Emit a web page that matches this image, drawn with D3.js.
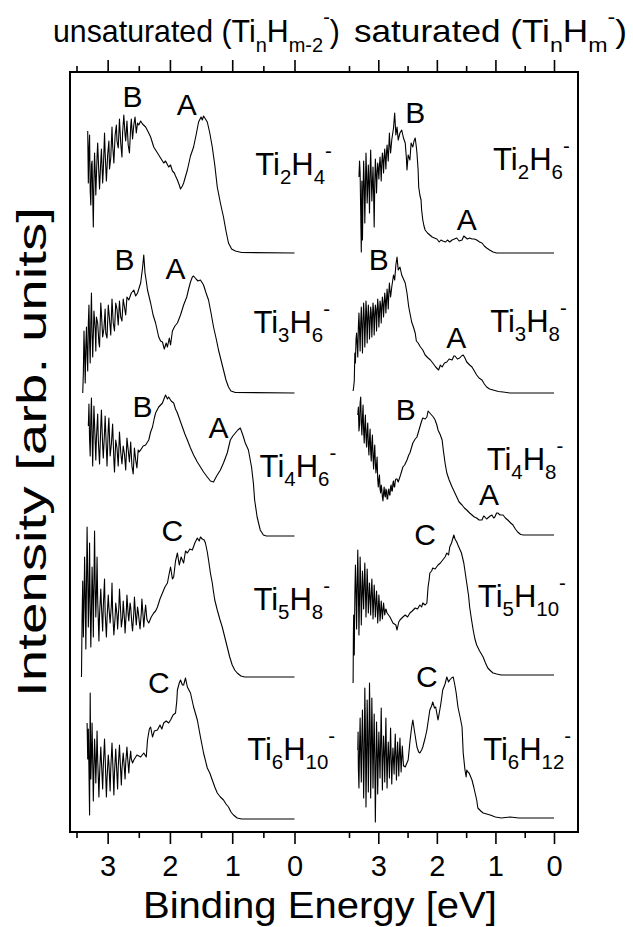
<!DOCTYPE html>
<html>
<head>
<meta charset="utf-8">
<script src="https://cdn.jsdelivr.net/npm/d3@7"></script>
<style>
body { margin: 0; background: #fff; }
svg { display: block; font-family: "Liberation Sans", Arial, Helvetica, sans-serif; }
.trace { fill: none; stroke: #000; stroke-width: 1.1; stroke-linejoin: round; }
.axis line { stroke: #000; stroke-width: 1.6; }
.axis path { display: none; }
.axis text { font-size: 29px; fill: #000; font-family: "Liberation Sans", Arial, sans-serif; }
</style>
</head>
<body>
<div id="chart"></div>
<script>
"use strict"

// binding energy ticks (eV), both panels use the same ones
const majorTicks = [3, 2, 1, 0];
const minorTicks = [3.5, 2.5, 1.5, 0.5];
const tickLabels = ["3", "2", "1", "0"];

const panelTitles = ["unsaturated (Ti_{n}H_{m-2}^{-})", "saturated (Ti_{n}H_{m}^{-})"];

// spectra as [binding energy (eV), intensity above own baseline (arb. units)]
const ti2h4 = [
    [3.32,122],[3.31,70],[3.30,104],[3.29,118],[3.28,62],[3.27,48],[3.26,88],[3.25,92],[3.23,26],[3.22,74],
    [3.21,100],[3.20,82],[3.19,58],[3.17,96],[3.16,110],[3.14,78],[3.13,64],[3.11,92],[3.10,104],[3.08,70],
    [3.07,82],[3.05,120],[3.04,100],[3.02,72],[3.00,98],[2.98,112],[2.97,84],[2.95,95],[2.93,126],[2.92,108],
    [2.90,90],[2.88,118],[2.86,128],[2.85,112],[2.83,105],[2.81,134],[2.79,110],[2.77,96],[2.76,120],[2.74,138],
    [2.72,118],[2.71,112],[2.69,132],[2.67,108],[2.65,100],[2.63,126],[2.62,134],[2.60,114],[2.58,128],[2.56,136],
    [2.54,120],[2.52,130],[2.50,128],
    [2.47,132],[2.44,129],[2.39,126],[2.34,120],[2.31,116],[2.26,106],[2.20,100],[2.15,95],[2.10,90],
    [2.07,92],[2.02,86],[1.99,88],[1.96,82],[1.93,80],[1.91,77],[1.88,73],[1.85,68],[1.83,64],[1.80,67],
    [1.78,70],[1.72,83],[1.67,97],[1.62,106],[1.58,118],[1.54,131],[1.50,136],[1.48,133],[1.46,137],[1.43,134],
    [1.40,131],[1.36,120],[1.32,106],[1.28,88],[1.24,66],[1.19,50],[1.14,36],[1.10,22],[1.06,10],[1.01,4],
    [0.95,2],[0.85,0.5],[0,0]
];
const ti3h6 = [
    [3.40,0],[3.39,20],[3.38,62],[3.37,40],[3.36,10],[3.35,48],[3.34,66],[3.33,38],[3.32,22],[3.31,70],
    [3.30,88],[3.29,52],[3.28,30],[3.27,72],[3.26,100],[3.25,60],[3.24,36],[3.23,58],[3.22,82],[3.20,64],
    [3.19,42],[3.18,76],[3.16,70],[3.14,50],[3.13,46],[3.11,90],[3.10,80],[3.08,56],[3.06,64],[3.04,84],
    [3.03,60],[3.01,55],[2.99,88],[2.97,74],[2.95,58],[2.93,94],[2.91,70],[2.89,62],[2.87,90],[2.85,84],
    [2.83,68],[2.81,92],[2.79,76],[2.77,72],[2.75,94],[2.73,86],[2.71,78],[2.69,96],[2.68,95],
    [2.66,93],[2.62,100],[2.58,103],[2.55,97],[2.52,100],[2.47,110],[2.44,125],[2.42,138],[2.40,120],[2.38,112],
    [2.36,103],[2.31,90],[2.27,78],[2.23,70],[2.18,56],[2.15,52],[2.12,51],[2.09,44],[2.06,50],[2.04,46],
    [2.01,55],[1.99,48],[1.96,62],[1.92,67],[1.88,70],[1.83,78],[1.78,88],[1.73,96],[1.70,104],[1.67,111],
    [1.64,116],[1.62,117],[1.58,114],[1.55,112],[1.51,113],[1.46,108],[1.42,100],[1.38,93],[1.34,80],[1.30,66],
    [1.26,55],[1.22,43],[1.18,33],[1.14,23],[1.10,13],[1.06,6],[1.02,2],[0.95,0.5],[0,0]
];
const ti4h6 = [
    [3.31,110],[3.30,132],[3.29,96],[3.28,80],[3.27,118],[3.26,138],[3.25,100],[3.24,70],[3.23,104],[3.22,130],
    [3.21,112],[3.19,76],[3.18,98],[3.16,122],[3.15,96],[3.13,72],[3.11,110],[3.10,126],[3.08,90],[3.07,78],
    [3.05,104],[3.04,120],[3.02,86],[3.01,70],[2.99,108],[2.98,118],[2.96,80],[2.94,92],[2.92,112],[2.90,76],
    [2.89,64],[2.87,96],[2.85,88],[2.83,70],[2.81,104],[2.79,84],[2.77,72],[2.75,90],[2.73,82],[2.71,66],
    [2.69,98],[2.67,86],[2.65,74],[2.63,94],[2.61,70],[2.59,62],[2.57,88],[2.55,76],[2.53,68],[2.51,86],
    [2.50,84],
    [2.47,86],[2.43,90],[2.39,91],[2.34,96],[2.31,104],[2.28,109],[2.25,118],[2.23,123],[2.18,129],[2.15,131],
    [2.12,133],[2.09,138],[2.07,141],[2.04,137],[2.02,139],[1.98,135],[1.94,133],[1.91,127],[1.88,123],[1.84,116],
    [1.80,109],[1.76,102],[1.72,96],[1.67,88],[1.62,81],[1.56,74],[1.51,69],[1.46,64],[1.40,59],[1.35,55],
    [1.30,54],[1.25,60],[1.19,66],[1.14,73],[1.08,83],[1.03,96],[0.99,100],[0.95,103],[0.91,106],[0.87,108],
    [0.83,101],[0.79,93],[0.74,86],[0.69,69],[0.66,53],[0.64,36],[0.60,19],[0.55,6],[0.50,1],[0.45,0],[0,0]
];
const ti5h8 = [
    [3.42,0],[3.41,60],[3.40,96],[3.39,40],[3.38,70],[3.37,120],[3.36,84],[3.35,28],[3.34,90],[3.33,150],
    [3.32,104],[3.31,50],[3.30,80],[3.29,134],[3.28,70],[3.27,30],[3.26,66],[3.25,110],[3.24,86],[3.23,40],
    [3.22,96],[3.21,146],[3.20,92],[3.19,60],[3.18,84],[3.17,120],[3.16,78],[3.14,36],[3.13,62],[3.11,88],
    [3.10,72],[3.08,46],[3.07,70],[3.05,98],[3.04,64],[3.02,40],[3.01,58],[2.99,82],[2.98,70],[2.96,54],
    [2.94,72],[2.93,94],[2.92,66],[2.90,42],[2.88,60],[2.87,74],[2.85,62],[2.84,48],[2.82,70],[2.81,88],
    [2.79,64],[2.78,50],[2.76,60],[2.75,76],[2.73,58],[2.72,44],[2.70,66],[2.69,82],[2.67,62],[2.66,56],
    [2.64,74],[2.63,70],[2.61,52],[2.60,46],[2.58,64],[2.57,80],[2.55,60],[2.54,52],[2.52,70],[2.51,66],
    [2.49,54],[2.48,48],[2.46,64],[2.45,78],[2.43,60],[2.42,50],[2.40,66],[2.39,72],[2.37,58],[2.36,56],
    [2.34,54],[2.30,60],[2.26,64],[2.23,66],[2.20,70],[2.16,78],[2.12,84],[2.08,90],[2.04,94],
    [2.01,104],[1.99,110],[1.96,98],[1.94,100],[1.91,116],[1.88,124],[1.85,112],[1.82,120],[1.78,114],[1.75,126],
    [1.72,124],[1.68,128],[1.64,127],[1.60,134],[1.56,139],[1.53,136],[1.51,140],[1.48,138],[1.45,137],[1.43,134],
    [1.40,125],[1.38,117],[1.35,104],[1.32,94],[1.30,85],[1.28,77],[1.26,72],[1.24,67],[1.20,58],[1.16,50],
    [1.12,40],[1.08,30],[1.04,20],[1.00,12],[0.96,7],[0.92,4],[0.86,1],[0.80,0],[0,0]
];
const ti6h10 = [
    [3.33,96],[3.32,60],[3.31,90],[3.30,48],[3.29,4],[3.285,70],[3.28,126],[3.27,40],[3.26,62],[3.25,96],
    [3.24,58],[3.23,18],[3.22,50],[3.21,80],[3.20,64],[3.19,36],[3.18,58],[3.17,88],[3.16,60],[3.14,22],
    [3.13,44],[3.11,72],[3.10,58],[3.08,30],[3.07,52],[3.05,80],[3.04,62],[3.02,22],[3.01,40],[2.99,64],
    [2.98,56],[2.96,28],[2.95,50],[2.93,76],[2.92,60],[2.90,24],[2.89,46],[2.87,70],[2.86,56],[2.84,30],
    [2.83,52],[2.81,74],[2.80,60],[2.78,34],[2.77,50],[2.75,66],[2.74,58],[2.72,40],[2.71,56],[2.69,72],
    [2.68,62],[2.66,46],[2.65,56],[2.63,68],[2.62,60],[2.60,56],
    [2.58,59],[2.53,64],[2.47,62],[2.42,66],[2.38,62],[2.36,79],[2.33,90],[2.31,92],[2.28,82],[2.25,88],
    [2.20,89],[2.16,94],[2.13,90],[2.10,96],[2.06,98],[2.02,96],[1.99,99],[1.95,104],[1.91,106],[1.89,118],
    [1.88,129],[1.85,136],[1.83,139],[1.80,134],[1.78,134],[1.75,141],[1.72,132],[1.67,126],[1.62,112],[1.56,99],
    [1.51,82],[1.46,66],[1.40,51],[1.36,46],[1.32,39],[1.28,32],[1.24,26],[1.19,22],[1.14,19],[1.10,15],
    [1.06,12],[1.02,7],[0.98,4],[0.92,1],[0.85,0],[0,0]
];
const ti2h6 = [
    [3.33,76],[3.32,92],[3.31,80],[3.30,40],[3.29,1],[3.285,50],[3.28,72],[3.27,13],[3.26,60],[3.25,92],
    [3.24,70],[3.23,30],[3.22,64],[3.21,100],[3.20,80],[3.19,50],[3.18,66],[3.17,88],[3.16,70],[3.15,40],
    [3.14,80],[3.13,103],[3.12,76],[3.11,52],[3.10,70],[3.09,86],[3.08,60],[3.07,26],[3.06,70],[3.05,94],
    [3.04,82],[3.03,60],[3.02,78],[3.01,90],[3.00,84],[2.99,74],[2.98,88],[2.97,96],[2.96,86],[2.95,72],
    [2.94,90],[2.93,100],[2.92,92],[2.91,80],[2.90,96],[2.89,104],[2.88,94],[2.87,84],[2.86,100],[2.85,108],
    [2.84,100],[2.83,92],[2.82,106],[2.81,120],[2.80,108],[2.79,100],
    [2.77,113],[2.74,125],[2.72,140],[2.70,118],[2.68,126],[2.66,113],[2.63,120],[2.60,123],[2.57,115],[2.54,110],
    [2.52,95],[2.51,83],[2.49,98],[2.46,93],[2.44,110],[2.41,106],[2.39,112],[2.37,115],[2.35,106],[2.34,100],
    [2.32,83],[2.31,66],[2.29,58],[2.27,53],[2.26,43],[2.24,33],[2.22,27],[2.20,23],[2.16,20],[2.12,18],
    [2.08,16],[2.04,15],[2.00,14],[1.96,11],[1.93,13],[1.90,12],[1.85,11],[1.82,13],[1.78,11],[1.74,13],
    [1.70,14],[1.66,15],[1.62,12],[1.57,13],[1.54,17],[1.52,16],[1.48,14],[1.44,15],[1.40,14],[1.36,14],
    [1.32,13],[1.27,11],[1.23,10],[1.19,7],[1.15,5],[1.10,3],[1.04,1],[0.98,0],[0,0]
];
const ti3h8 = [
    [3.43,2],[3.42,6],[3.41,12],[3.40,40],[3.39,30],[3.38,54],[3.37,60],[3.36,48],[3.35,36],[3.34,66],
    [3.33,80],[3.32,62],[3.31,42],[3.30,70],[3.29,86],[3.28,66],[3.27,40],[3.26,72],[3.25,90],[3.24,74],
    [3.23,46],[3.22,68],[3.21,92],[3.20,80],[3.19,50],[3.18,72],[3.17,88],[3.16,76],[3.15,54],[3.14,70],
    [3.13,86],[3.12,80],[3.11,56],[3.10,74],[3.09,90],[3.08,82],[3.07,58],[3.06,76],[3.05,88],[3.04,84],
    [3.03,62],[3.02,80],[3.01,94],[3.00,86],[2.99,66],[2.98,78],[2.97,92],[2.96,88],[2.95,70],[2.94,84],
    [2.93,96],[2.92,90],[2.91,76],[2.90,88],[2.89,100],[2.88,94],[2.87,80],[2.86,92],[2.85,104],[2.84,96],
    [2.83,84],[2.82,100],[2.81,110],[2.80,102],[2.79,96],
    [2.77,106],[2.74,118],[2.72,113],[2.70,128],[2.68,136],[2.66,123],[2.63,126],[2.60,118],[2.57,114],[2.54,110],
    [2.51,100],[2.48,86],[2.46,80],[2.43,71],[2.40,66],[2.37,60],[2.35,52],[2.32,50],[2.28,46],[2.24,43],
    [2.20,38],[2.15,35],[2.11,33],[2.07,30],[2.02,26],[1.97,23],[1.94,28],[1.91,26],[1.87,30],[1.83,31],
    [1.79,34],[1.74,33],[1.71,37],[1.69,37],[1.65,34],[1.61,35],[1.58,37],[1.55,38],[1.52,35],[1.49,31],
    [1.44,28],[1.40,26],[1.36,22],[1.32,18],[1.28,15],[1.23,13],[1.19,9],[1.15,6],[1.10,4],[1.04,3],
    [0.95,1.5],[0.87,1],[0.75,0],[0,0]
];
const ti4h8 = [
    [3.35,120],[3.34,128],[3.33,104],[3.32,110],[3.31,132],[3.30,138],[3.29,112],[3.28,100],[3.27,118],[3.26,130],
    [3.25,104],[3.24,92],[3.23,110],[3.22,120],[3.21,98],[3.20,88],[3.19,104],[3.18,112],[3.17,90],[3.16,80],
    [3.15,96],[3.14,106],[3.13,84],[3.12,74],[3.11,92],[3.10,100],[3.09,78],[3.08,66],[3.07,82],[3.06,90],
    [3.05,72],[3.04,62],[3.03,70],[3.02,78],[3.01,56],[3.00,48],[2.99,56],[2.98,60],[2.97,46],[2.96,42],
    [2.95,50],[2.94,46],[2.93,38],[2.92,34],[2.91,42],[2.90,48],[2.89,40],[2.88,38],[2.87,46],[2.86,44],
    [2.85,36],[2.84,36],[2.83,44],[2.82,46],[2.81,40],[2.80,40],[2.79,48],[2.78,50],[2.77,44],[2.76,44],
    [2.75,52],[2.74,54],[2.73,48],[2.72,48],[2.71,54],[2.70,56],
    [2.68,56],[2.66,53],[2.62,60],[2.58,68],[2.55,70],[2.51,75],[2.48,80],[2.46,82],[2.43,88],[2.41,92],
    [2.37,96],[2.34,98],[2.31,104],[2.29,108],[2.26,114],[2.24,117],[2.20,116],[2.17,118],[2.15,124],[2.12,122],
    [2.09,120],[2.06,118],[2.03,115],[2.00,110],[1.98,105],[1.94,100],[1.91,95],[1.89,85],[1.86,72],[1.83,62],
    [1.79,55],[1.74,48],[1.70,43],[1.66,38],[1.62,33],[1.57,30],[1.53,27],[1.49,25],[1.44,22],[1.40,20],
    [1.36,18],[1.32,17],[1.28,15],[1.23,15],[1.20,19],[1.18,18],[1.15,16],[1.13,17],[1.09,19],[1.06,20],
    [1.03,17],[1.01,18],[0.98,22],[0.96,22],[0.92,20],[0.87,20],[0.83,17],[0.79,15],[0.74,12],[0.70,10],
    [0.66,6],[0.62,3],[0.57,0.5],[0.52,0],[0,0]
];
const ti5h10 = [
    [3.43,-8],[3.425,40],[3.42,60],[3.41,20],[3.40,80],[3.39,110],[3.38,84],[3.37,46],[3.36,90],[3.35,125],
    [3.34,86],[3.33,40],[3.32,78],[3.31,118],[3.30,92],[3.29,50],[3.28,76],[3.27,104],[3.26,84],[3.25,66],
    [3.24,92],[3.23,112],[3.22,86],[3.21,58],[3.20,80],[3.19,106],[3.18,88],[3.17,62],[3.16,76],[3.15,92],
    [3.14,78],[3.13,60],[3.12,80],[3.11,96],[3.10,80],[3.09,56],[3.08,72],[3.07,90],[3.06,76],[3.05,58],
    [3.04,70],[3.03,84],[3.02,72],[3.01,52],[3.00,64],[2.99,80],[2.98,70],[2.97,54],[2.96,62],[2.95,74],
    [2.94,66],[2.93,56],[2.92,64],[2.91,72],[2.90,66],[2.89,60],[2.88,64],[2.87,66],
    [2.85,62],[2.80,58],[2.75,52],[2.70,50],[2.68,45],[2.65,53],[2.63,55],[2.58,58],[2.54,60],[2.50,58],
    [2.46,62],[2.42,64],[2.37,67],[2.33,66],[2.29,70],[2.26,68],[2.24,72],[2.20,70],[2.17,72],[2.16,80],
    [2.15,88],[2.13,96],[2.12,102],[2.09,104],[2.07,107],[2.03,106],[1.98,110],[1.94,112],[1.90,115],[1.86,118],
    [1.83,122],[1.80,120],[1.78,128],[1.75,132],[1.73,136],[1.71,140],[1.69,136],[1.66,133],[1.64,130],[1.61,126],
    [1.58,122],[1.54,112],[1.52,104],[1.49,92],[1.46,80],[1.44,68],[1.41,56],[1.38,45],[1.35,36],[1.32,30],
    [1.27,24],[1.21,18],[1.17,12],[1.13,7],[1.08,4],[1.04,2],[0.98,1],[0.90,0],[0,0]
];
const ti6h12 = [
    [3.35,68],[3.345,86],[3.34,50],[3.33,30],[3.32,70],[3.31,100],[3.30,64],[3.29,36],[3.28,80],[3.27,108],
    [3.26,70],[3.25,20],[3.24,60],[3.23,130],[3.22,90],[3.21,11],[3.20,56],[3.19,118],[3.18,84],[3.17,26],
    [3.16,70],[3.15,135],[3.14,96],[3.13,20],[3.12,64],[3.11,120],[3.10,80],[3.09,30],[3.08,72],[3.07,104],
    [3.06,58],[3.05,-4],[3.04,50],[3.03,96],[3.02,70],[3.01,24],[3.00,60],[2.99,86],[2.98,62],[2.97,40],
    [2.96,76],[2.95,110],[2.94,70],[2.93,28],[2.92,60],[2.91,82],[2.90,66],[2.89,36],[2.88,70],[2.87,100],
    [2.86,62],[2.85,30],[2.84,58],[2.83,76],[2.82,60],[2.81,40],[2.80,66],[2.79,90],[2.78,60],[2.77,34],
    [2.76,56],[2.75,70],[2.74,58],[2.73,44],[2.72,66],[2.71,84],[2.70,62],[2.69,38],[2.68,60],[2.67,76],
    [2.66,60],[2.65,42],[2.64,64],[2.63,80],[2.62,62],[2.61,46],[2.60,60],[2.59,72],[2.58,62],[2.57,52],
    [2.56,52],
    [2.54,51],[2.49,58],[2.46,76],[2.43,91],[2.41,98],[2.38,86],[2.34,71],[2.31,66],[2.29,65],
    [2.26,68],[2.24,71],[2.20,80],[2.17,88],[2.14,100],[2.12,108],[2.09,112],[2.07,116],[2.04,110],[2.02,111],
    [1.98,98],[1.95,108],[1.93,115],[1.90,128],[1.86,134],[1.83,141],[1.80,136],[1.78,138],[1.75,140],[1.72,141],
    [1.69,132],[1.67,125],[1.64,111],[1.60,100],[1.57,91],[1.55,65],[1.52,48],[1.50,41],[1.49,48],[1.47,46],
    [1.45,45],[1.40,38],[1.37,31],[1.32,18],[1.30,10],[1.25,7],[1.21,5],[1.15,4],[1.09,3],[1.00,1],
    [0.90,0],[0.75,1],[0.60,0],[0,0]
];

// which spectrum goes where
const spectra = [ti2h4, ti3h6, ti4h6, ti5h8, ti6h10, ti2h6, ti3h8, ti4h8, ti5h10, ti6h12];
const panelOf = [0, 0, 0, 0, 0, 1, 1, 1, 1, 1];
// vertical stacking offset of each spectrum (arb. units)
const offsets = [579, 439, 296, 155, 13, 579, 439, 297, 157, 14];

const formulas = [
    "Ti_{2}H_{4}^{-}", "Ti_{3}H_{6}^{-}", "Ti_{4}H_{6}^{-}", "Ti_{5}H_{8}^{-}", "Ti_{6}H_{10}^{-}",
    "Ti_{2}H_{6}^{-}", "Ti_{3}H_{8}^{-}", "Ti_{4}H_{8}^{-}", "Ti_{5}H_{10}^{-}", "Ti_{6}H_{12}^{-}"
];
// formula label anchor [energy, intensity] relative to each spectrum
const formulaAnchors = [
    [0.63, 78], [0.66, 60], [0.56, 59], [0.66, 67], [0.76, 59],
    [1.04, 83], [1.09, 61], [1.15, 65], [1.30, 68], [1.21, 58]
];
// peak letters [spectrum index, letter, energy, intensity]
const peakMarks = [
    [0, "B", 2.60, 146], [0, "A", 1.73, 138],
    [1, "B", 2.73, 123], [1, "A", 1.91, 114],
    [2, "B", 2.44, 119], [2, "A", 1.22, 98],
    [3, "C", 1.96, 136],
    [4, "C", 2.18, 126],
    [5, "B", 2.37, 130], [5, "A", 1.49, 23],
    [6, "B", 2.99, 123], [6, "A", 1.67, 45],
    [7, "B", 2.53, 115], [7, "A", 1.11, 30],
    [8, "C", 2.20, 130],
    [9, "C", 2.17, 131]
];

function richText(sel, str, size){
    // splits "Ti_{2}H_{4}^{-}" into normal, subscript and superscript tspans
    const subShift = 0.3 * size, supShift = -0.55 * size;
    let shift = 0;
    const re = /(_|\^)\{([^}]*)\}|([^_^]+)/g;
    let m;
    while ((m = re.exec(str)) !== null) {
        let target = 0, txt = m[3], fs = size;
        if (m[1] === "_") { target = subShift; txt = m[2]; fs = size * 0.66; }
        if (m[1] === "^") { target = supShift; txt = m[2]; fs = size * 0.66; }
        sel.append("tspan")
            .attr("dy", target - shift)
            .attr("font-size", fs)
            .text(txt);
        shift = target;
    }
}

function fitWidth(sel, x, y, w, rot){
    const bw = sel.node().getBBox().width;
    const r = rot ? ` rotate(${rot})` : "";
    sel.attr("transform", `translate(${x},${y})${r} scale(${w / bw},1)`);
}

function drawChart(){
    const figWidth = 633;
    const figHeight = 927;
    const frame = {left: 70, right: 578, top: 72, bottom: 832};

    const svg = d3.select("#chart").append("svg")
        .attr("width", figWidth)
        .attr("height", figHeight);

    // one x scale per panel, energy decreasing to the right
    const xScales = [
        d3.scaleLinear().domain([3.5, 0]).range([76.5, 294.5]),
        d3.scaleLinear().domain([3.5, 0]).range([349, 554])
    ];
    const yScale = d3.scaleLinear().domain([0, 760]).range([frame.bottom, frame.top]);

    // frame
    svg.append("rect")
        .attr("x", frame.left).attr("y", frame.top)
        .attr("width", frame.right - frame.left)
        .attr("height", frame.bottom - frame.top)
        .attr("fill", "none").attr("stroke", "#000").attr("stroke-width", 2);

    // ticks top and bottom
    xScales.forEach(x => {
        svg.append("g").attr("class", "axis")
            .attr("transform", `translate(0,${frame.bottom})`)
            .call(d3.axisBottom(x).tickValues(majorTicks).tickSize(12).tickPadding(11.4)
                .tickFormat((d, i) => tickLabels[i]));
        svg.append("g").attr("class", "axis")
            .attr("transform", `translate(0,${frame.bottom})`)
            .call(d3.axisBottom(x).tickValues(minorTicks).tickSize(6).tickFormat(""));
        svg.append("g").attr("class", "axis")
            .attr("transform", `translate(0,${frame.top})`)
            .call(d3.axisTop(x).tickValues(majorTicks).tickSize(12).tickFormat(""));
        svg.append("g").attr("class", "axis")
            .attr("transform", `translate(0,${frame.top})`)
            .call(d3.axisTop(x).tickValues(minorTicks).tickSize(6).tickFormat(""));
    });

    // spectra
    spectra.forEach((data, i) => {
        const x = xScales[panelOf[i]];
        const pts = data.slice().sort((a, b) => b[0] - a[0]);
        const line = d3.line()
            .x(d => x(d[0]))
            .y(d => yScale(d[1] + offsets[i]));
        svg.append("path").attr("class", "trace").attr("d", line(pts));

        const fa = formulaAnchors[i];
        const t = svg.append("text")
            .attr("x", x(fa[0])).attr("y", yScale(fa[1] + offsets[i]))
            .attr("font-size", 31);
        richText(t, formulas[i], 31);
    });

    // peak letters
    peakMarks.forEach(p => {
        const i = p[0];
        const x = xScales[panelOf[i]];
        svg.append("text")
            .attr("x", x(p[2])).attr("y", yScale(p[3] + offsets[i]))
            .attr("text-anchor", "middle")
            .attr("font-size", 30)
            .text(p[1]);
    });

    // panel titles
    const titleBox = [[53, 287], [354, 273]];
    panelTitles.forEach((s, i) => {
        const t = svg.append("text").attr("font-size", 32);
        richText(t, s, 32);
        fitWidth(t, titleBox[i][0], 42, titleBox[i][1]);
    });

    // axis labels
    const xl = svg.append("text").attr("font-size", 37).text("Binding Energy [eV]");
    fitWidth(xl, 143, 918, 354);

    const yl = svg.append("text").attr("font-size", 40).attr("text-anchor", "middle")
        .text("Intensity [arb. units]");
    fitWidth(yl, 46, 452, 490, -90);
}

drawChart();
</script>
</body>
</html>
